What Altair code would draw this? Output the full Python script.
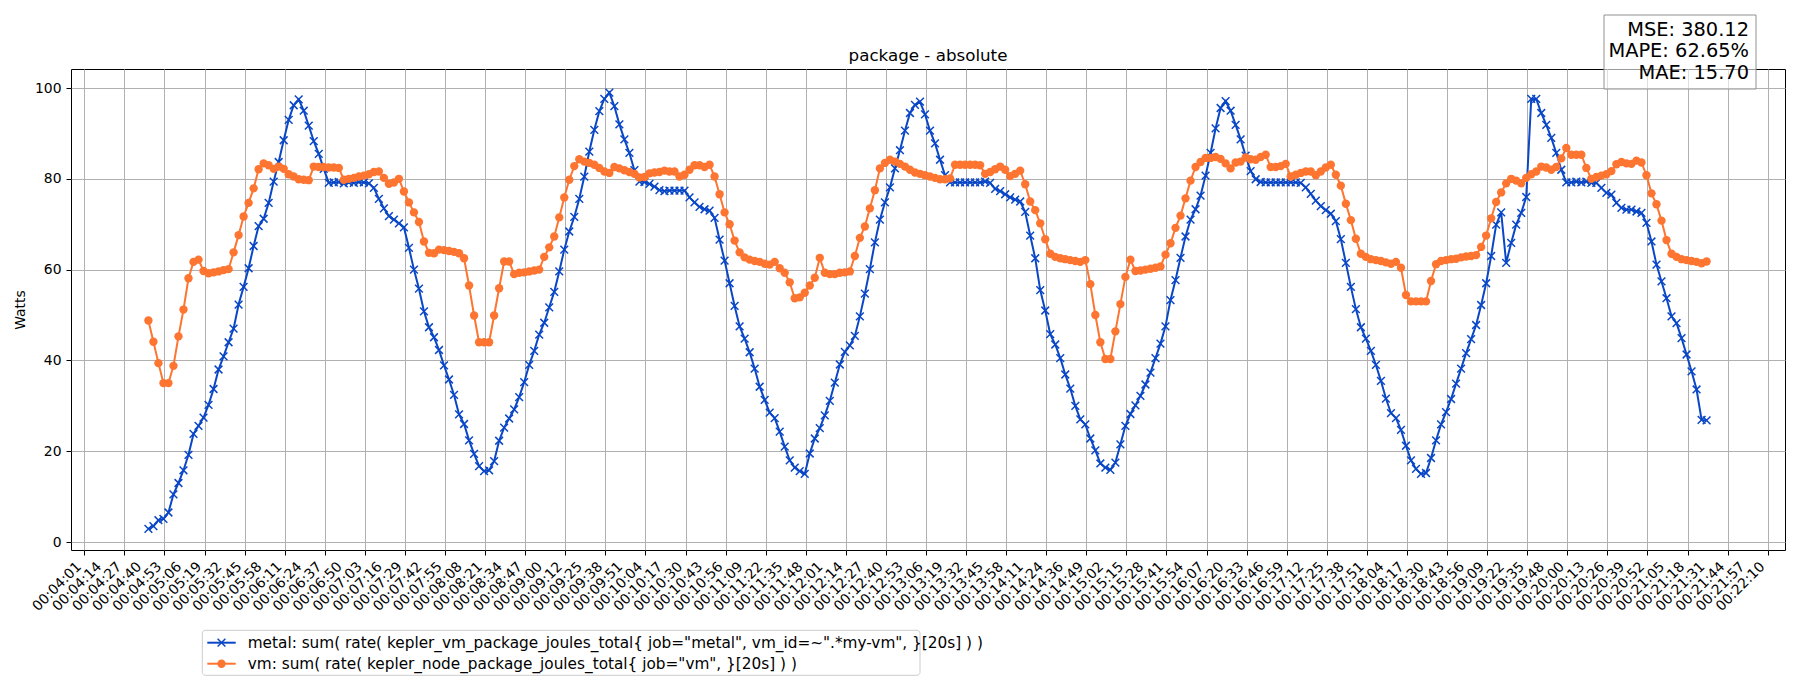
import altair as alt
import pandas as pd

# ---------------- data ----------------
tick_labels = [
    "00:04:01", "00:04:14", "00:04:27", "00:04:40", "00:04:53",
    "00:05:06", "00:05:19", "00:05:32", "00:05:45", "00:05:58",
    "00:06:11", "00:06:24", "00:06:37", "00:06:50",
    "00:07:03", "00:07:16", "00:07:29", "00:07:42", "00:07:55",
    "00:08:08", "00:08:21", "00:08:34", "00:08:47",
    "00:09:00", "00:09:12", "00:09:25", "00:09:38", "00:09:51",
    "00:10:04", "00:10:17", "00:10:30", "00:10:43", "00:10:56",
    "00:11:09", "00:11:22", "00:11:35", "00:11:48",
    "00:12:01", "00:12:14", "00:12:27", "00:12:40", "00:12:53",
    "00:13:06", "00:13:19", "00:13:32", "00:13:45", "00:13:58",
    "00:14:11", "00:14:24", "00:14:36", "00:14:49",
    "00:15:02", "00:15:15", "00:15:28", "00:15:41", "00:15:54",
    "00:16:07", "00:16:20", "00:16:33", "00:16:46", "00:16:59",
    "00:17:12", "00:17:25", "00:17:38", "00:17:51",
    "00:18:04", "00:18:17", "00:18:30", "00:18:43", "00:18:56",
    "00:19:09", "00:19:22", "00:19:35", "00:19:48",
    "00:20:00", "00:20:13", "00:20:26", "00:20:39", "00:20:52",
    "00:21:05", "00:21:18", "00:21:31", "00:21:44", "00:21:57",
    "00:22:10",
]
SAMPLES_PER_TICK = 4      # one tick label every 4 samples
FIRST_SAMPLE = 12.8       # position of the first sample, in sample units

metal = [
    2.9, 3.5, 4.8, 5.1, 6.5, 10.5, 13.0, 15.8, 19.2, 23.8,
    25.6, 27.4, 30.2, 33.7, 38.0, 40.9, 44.0, 47.0, 52.3, 56.2,
    60.3, 65.2, 69.6, 71.2, 74.7, 79.4, 83.7, 88.5, 93.0, 96.2,
    97.5, 95.0, 91.7, 88.3, 85.5, 82.2, 79.1, 79.2, 79.3, 79.0,
    79.2, 79.1, 79.3, 79.2, 79.0, 78.0, 75.6,
    73.5, 71.8, 71.0, 70.2, 69.3, 64.8, 60.0, 55.8, 50.8, 47.3,
    45.1, 42.3, 38.9, 35.8, 32.4, 28.1, 26.0, 22.4, 19.4, 16.7,
    15.6, 15.8, 17.8, 22.3, 25.2, 27.2, 29.2, 31.9, 35.2, 39.0,
    42.1, 45.7, 48.3, 51.7, 55.1, 59.6, 64.4, 68.4, 71.6, 75.6,
    80.5, 86.0, 90.8, 94.9, 97.6, 99.0, 96.0, 92.0, 88.7, 85.7,
    81.9, 79.4, 79.3, 78.9, 78.3, 77.5, 77.3, 77.4,
    77.4, 77.4, 77.4, 75.9, 74.8, 73.8, 73.3, 73.0, 71.4, 66.6,
    62.0, 57.0, 52.0, 47.5, 44.8, 41.8, 38.2, 34.2, 31.3, 28.5,
    27.3, 24.3, 21.0, 18.0, 16.4, 15.6, 15.0, 19.5, 22.8, 25.1,
    27.9, 31.1, 35.1, 39.1, 41.9, 43.3, 45.4, 49.7, 54.7, 60.1,
    66.0, 71.0, 74.8, 78.1, 82.3, 86.3, 90.6, 94.5, 96.3, 97.0,
    94.2, 90.6, 87.8, 84.2, 80.8, 79.2,
    79.2, 79.2, 79.2, 79.2, 79.2, 79.2, 79.4, 79.1, 77.8, 77.3,
    76.6, 75.9, 75.4, 75.0, 72.7, 67.5, 62.5, 55.5, 51.0, 45.8,
    43.5, 40.5, 36.9, 33.8, 30.0, 27.0, 25.9, 22.8, 20.2, 17.3,
    16.4, 15.9, 17.5, 21.5, 25.6, 28.2, 30.1, 32.2, 34.7, 37.3,
    40.5, 43.7, 47.5, 53.3, 57.7, 62.6, 67.3, 71.0, 73.3, 76.3,
    80.7, 85.7, 91.1, 95.6, 97.1, 95.0,
    91.9, 88.7, 85.1, 81.7, 79.9, 79.3, 79.2, 79.2, 79.2, 79.2,
    79.2, 79.2, 79.2, 79.1, 78.1, 76.7, 75.2, 74.0, 73.1, 72.3,
    70.7, 66.7, 61.5, 56.2, 51.3, 47.3, 44.8, 42.1, 39.0, 35.5,
    31.6, 28.4, 27.3, 24.7, 21.2, 18.0, 16.1, 15.0, 15.2, 18.5,
    22.4, 25.9, 28.6, 31.5, 34.9, 38.2, 41.6, 44.7, 47.8, 52.2,
    57.0, 63.0, 69.9, 72.6,
    61.5, 65.9, 69.9, 72.5, 76.0, 97.6, 97.6, 94.5, 91.9, 89.0,
    85.7, 82.0, 79.2, 79.2, 79.4, 79.2, 79.4, 79.1, 79.1, 78.0,
    76.9, 76.5, 74.7, 73.6, 73.2, 73.2, 72.8, 72.5, 70.3, 66.2,
    61.1, 57.4, 53.7, 49.7, 48.2, 44.9, 41.3, 37.6, 33.6, 26.9,
    26.8,
]

vm = [
    48.8, 44.1, 39.4, 35.0, 35.0, 38.8, 45.3, 51.2, 58.1, 61.7,
    62.2, 59.7, 59.2, 59.4, 59.6, 59.9, 60.1, 63.8, 67.6, 71.7,
    74.7, 77.9, 82.1, 83.4, 83.0, 82.2, 82.7, 82.2, 81.0, 80.5,
    79.9, 79.8, 79.7, 82.7, 82.6, 82.6, 82.5, 82.5, 82.4, 79.8,
    80.0, 80.2, 80.5, 80.7, 81.0, 81.5, 81.6,
    80.2, 78.9, 79.2, 80.0, 77.2, 74.8, 72.6, 70.5, 66.2, 63.7,
    63.6, 64.4, 64.3, 64.1, 63.9, 63.6, 62.5, 56.5, 49.9, 44.0,
    44.0, 44.0, 49.9, 55.9, 61.8, 61.8, 59.0, 59.3, 59.4, 59.6,
    59.8, 60.0, 62.8, 64.9, 67.3, 71.5, 75.9, 79.8, 82.8, 84.3,
    83.8, 83.5, 83.1, 82.4, 81.6, 81.3, 82.6, 82.3, 81.9, 81.5,
    81.1, 80.3, 80.4, 81.2, 81.4, 81.5, 81.8, 81.6,
    81.6, 80.5, 80.9, 82.0, 83.0, 83.0, 82.6, 83.1, 80.5, 76.6,
    72.6, 70.0, 66.4, 63.8, 62.7, 62.2, 61.9, 61.7, 61.3, 61.1,
    61.7, 60.3, 59.3, 57.2, 53.7, 53.9, 54.9, 56.5, 58.2, 62.6,
    59.3, 59.0, 59.0, 59.3, 59.4, 59.6, 63.0, 67.0, 69.5, 73.5,
    77.5, 82.3, 83.5, 84.2, 83.8, 83.3, 82.7, 82.0, 81.4, 81.1,
    80.8, 80.5, 80.2, 79.9, 79.9, 80.1,
    83.1, 83.1, 83.1, 83.1, 83.1, 83.0, 81.1, 81.5, 82.1, 82.7,
    82.0, 80.6, 81.1, 81.8, 78.8, 75.0, 73.1, 70.2, 66.7, 63.5,
    62.8, 62.5, 62.3, 62.1, 61.9, 61.7, 62.1, 56.8, 50.0, 44.0,
    40.3, 40.3, 46.4, 52.4, 58.4, 62.2, 59.7, 59.8, 60.0, 60.2,
    60.4, 60.7, 63.3, 65.8, 69.2, 71.9, 75.7, 79.6, 82.6, 83.7,
    84.6, 84.6, 84.8, 84.4, 83.4, 82.3,
    83.6, 83.8, 84.7, 84.3, 84.2, 84.8, 85.3, 82.6, 82.6, 82.8,
    83.3, 80.5, 80.9, 81.3, 81.6, 81.6, 80.8, 81.6, 82.5, 83.1,
    80.9, 78.5, 74.5, 70.9, 66.8, 63.5, 62.8, 62.3, 62.1, 61.9,
    61.6, 61.3, 61.7, 60.4, 54.4, 53.0, 53.0, 53.0, 53.0, 57.5,
    61.2, 61.9, 62.1, 62.3, 62.4, 62.7, 62.9, 63.0, 63.2, 65.0,
    67.5, 71.3, 74.9, 77.0,
    79.0, 80.0, 79.6, 79.0, 80.2, 81.0, 81.6, 82.7, 82.5, 82.0,
    82.6, 84.5, 86.8, 85.3, 85.3, 85.3, 82.4, 80.0, 80.4, 80.7,
    81.0, 81.7, 83.2, 83.7, 83.4, 83.3, 84.0, 83.6, 80.8, 76.8,
    74.4, 70.8, 66.5, 63.5, 62.8, 62.3, 62.1, 61.9, 61.7, 61.4,
    61.8,
]

legend_labels = [
    'metal: sum( rate( kepler_vm_package_joules_total{ job="metal", vm_id=~".*my-vm", }[20s] ) )',
    'vm: sum( rate( kepler_node_package_joules_total{ job="vm", }[20s] ) )',
]
metrics_lines = ["MSE: 380.12", "MAPE: 62.65%", "MAE: 15.70"]
title_text = "package - absolute"
y_title = "Watts"
y_ticks = [0, 20, 40, 60, 80, 100]

# ---------------- styling ----------------
BLUE = "#0a47c6"
ORANGE = "#fd7530"
FONT = "DejaVu Sans"
W, H = 1714, 481
X_PATH = "M-1,-1L1,1M-1,1L1,-1"
LW = 2.0
X_SIZE = 60
O_SIZE = 70

metal_df = pd.DataFrame({"s": [FIRST_SAMPLE + i for i in range(len(metal))], "v": metal})
vm_df = pd.DataFrame({"s": [FIRST_SAMPLE + i for i in range(len(vm))], "v": vm})
tick_vals = [SAMPLES_PER_TICK * k for k in range(len(tick_labels))]
ticks_df = pd.DataFrame({"s": tick_vals, "lab": tick_labels})

x_enc = alt.X(
    "s:Q",
    scale=alt.Scale(domain=[-2.65, 339.45], nice=False, zero=False),
    axis=alt.Axis(values=tick_vals, labels=False, title=None, tickSize=5, grid=True, domain=False),
)
y_enc = alt.Y(
    "v:Q",
    scale=alt.Scale(domain=[-1.76, 104.19], nice=False, zero=False),
    axis=alt.Axis(
        values=y_ticks, title=y_title, tickSize=5, labelPadding=5, grid=True,
        domain=False, titleX=-51, titleY=H / 2, titleAngle=-90,
        titleAlign="center", titleBaseline="middle", titleFontWeight="normal",
    ),
)

metal_line = alt.Chart(metal_df).mark_line(color=BLUE, strokeWidth=LW).encode(x=x_enc, y=y_enc)
metal_pts = alt.Chart(metal_df).mark_point(
    shape=X_PATH, filled=False, color=BLUE, size=X_SIZE, strokeWidth=1.5, opacity=1
).encode(x="s:Q", y="v:Q")
vm_line = alt.Chart(vm_df).mark_line(color=ORANGE, strokeWidth=LW).encode(x="s:Q", y="v:Q")
vm_pts = alt.Chart(vm_df).mark_circle(color=ORANGE, size=O_SIZE, opacity=1).encode(x="s:Q", y="v:Q")

# rotated x tick labels, placed through the x scale
x_labels = alt.Chart(ticks_df).mark_text(
    font=FONT, fontSize=13.9, angle=315, align="right", baseline="middle",
    color="black", dx=-3.54, dy=-3.54,
).encode(x="s:Q", y=alt.value(H + 14.7), text="lab:N")


def one(**kw):
    return pd.DataFrame(kw)


title = alt.Chart(one(t=[title_text])).mark_text(
    font=FONT, fontSize=16.7, align="center", baseline="alphabetic", color="black"
).encode(text="t:N", x=alt.value(W / 2), y=alt.value(-8))

# metrics box
m_box = alt.Chart(one(a=[0])).mark_rect(
    fill="white", fillOpacity=0.6, stroke="#909090", strokeWidth=1
).encode(x=alt.value(1533), x2=alt.value(1685), y=alt.value(-54), y2=alt.value(20))
m_texts = [
    alt.Chart(one(t=[txt])).mark_text(
        font=FONT, fontSize=19.4, align="right", baseline="alphabetic", color="black"
    ).encode(text="t:N", x=alt.value(1678), y=alt.value(yy))
    for txt, yy in zip(metrics_lines, [-33.3, -11.8, 9.7])
]

# legend (below the axis, like the reference)
leg_box = alt.Chart(one(a=[0])).mark_rect(
    fill="white", fillOpacity=0.8, stroke="#cccccc", strokeWidth=1, cornerRadius=3
).encode(x=alt.value(131.3), x2=alt.value(849), y=alt.value(561.3), y2=alt.value(606.3))
leg_rows = [573.7, 594.7]
leg_layers = []
for lbl, yy, col, kind in zip(legend_labels, leg_rows, [BLUE, ORANGE], ["x", "o"]):
    leg_layers.append(
        alt.Chart(one(a=[0])).mark_rule(color=col, strokeWidth=LW).encode(
            x=alt.value(136.3), x2=alt.value(164.7), y=alt.value(yy)
        )
    )
    if kind == "x":
        leg_layers.append(
            alt.Chart(one(a=[0])).mark_point(
                shape=X_PATH, filled=False, color=col, size=X_SIZE, strokeWidth=1.5, opacity=1
            ).encode(x=alt.value(150.5), y=alt.value(yy))
        )
    else:
        leg_layers.append(
            alt.Chart(one(a=[0])).mark_circle(color=col, size=O_SIZE, opacity=1).encode(
                x=alt.value(150.5), y=alt.value(yy)
            )
        )
    leg_layers.append(
        alt.Chart(one(t=[lbl])).mark_text(
            font=FONT, fontSize=15.3, align="left", baseline="middle", color="black"
        ).encode(text="t:N", x=alt.value(176.7), y=alt.value(yy))
    )

chart = alt.layer(
    metal_line, metal_pts, vm_line, vm_pts, x_labels, title, m_box, *m_texts, leg_box, *leg_layers
).properties(
    width=W, height=H,
    padding={"left": 63, "top": 61, "right": 5, "bottom": 130},
    autosize=alt.AutoSizeParams(type="none"),
).configure_view(
    stroke="black", strokeWidth=1
).configure_axis(
    labelFont=FONT, titleFont=FONT, labelFontSize=13.9, titleFontSize=13.9,
    labelColor="black", titleColor="black", tickColor="black", tickWidth=1,
    gridColor="#b0b0b0", gridWidth=1, gridOpacity=1,
)

chart.save("out.html", embed_options={"renderer": "svg", "actions": False})
